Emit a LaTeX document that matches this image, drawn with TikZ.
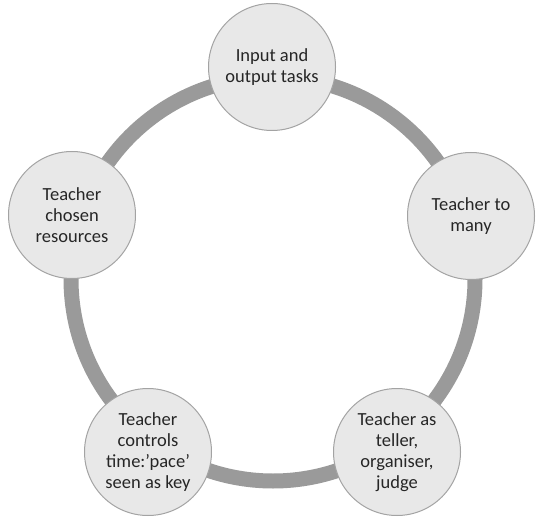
\documentclass[tikz,border=0pt]{standalone}
\usepackage{fontspec}
\setmainfont{Carlito}
\definecolor{ringgray}{HTML}{9A9A9A}
\definecolor{edgegray}{HTML}{A3A3A3}
\definecolor{stagefill}{HTML}{E8E8E8}
\definecolor{textgray}{HTML}{262626}
\begin{document}
\begin{tikzpicture}[x=1pt,y=-1pt,
  ring/.style={draw=ringgray, line width=15pt},
  stage/.style={circle, draw=edgegray, line width=1pt, fill=stagefill,
    minimum size=127pt, inner sep=0pt, align=center, text=textgray,
    font=\fontsize{18.5}{21}\selectfont}]
  \useasboundingbox (0,0) rectangle (537,518);
  % cycle ring behind the stages
  \coordinate (hub) at (273,279);
  \draw[ring] (hub) circle[radius=202pt];
  % the five stages
  \node[stage] (input)  at (272,67)  {Input and\\output tasks};
  \node[stage] (many)   at (471,216) {Teacher to\\many};
  \node[stage] (teller) at (397,452) {Teacher as\\teller,\\organiser,\\judge};
  \node[stage] (pace)   at (148,452) {Teacher\\controls\\time:’pace’\\seen as key};
  \node[stage] (res)    at (72,215)  {Teacher\\chosen\\resources};
\end{tikzpicture}
\end{document}
